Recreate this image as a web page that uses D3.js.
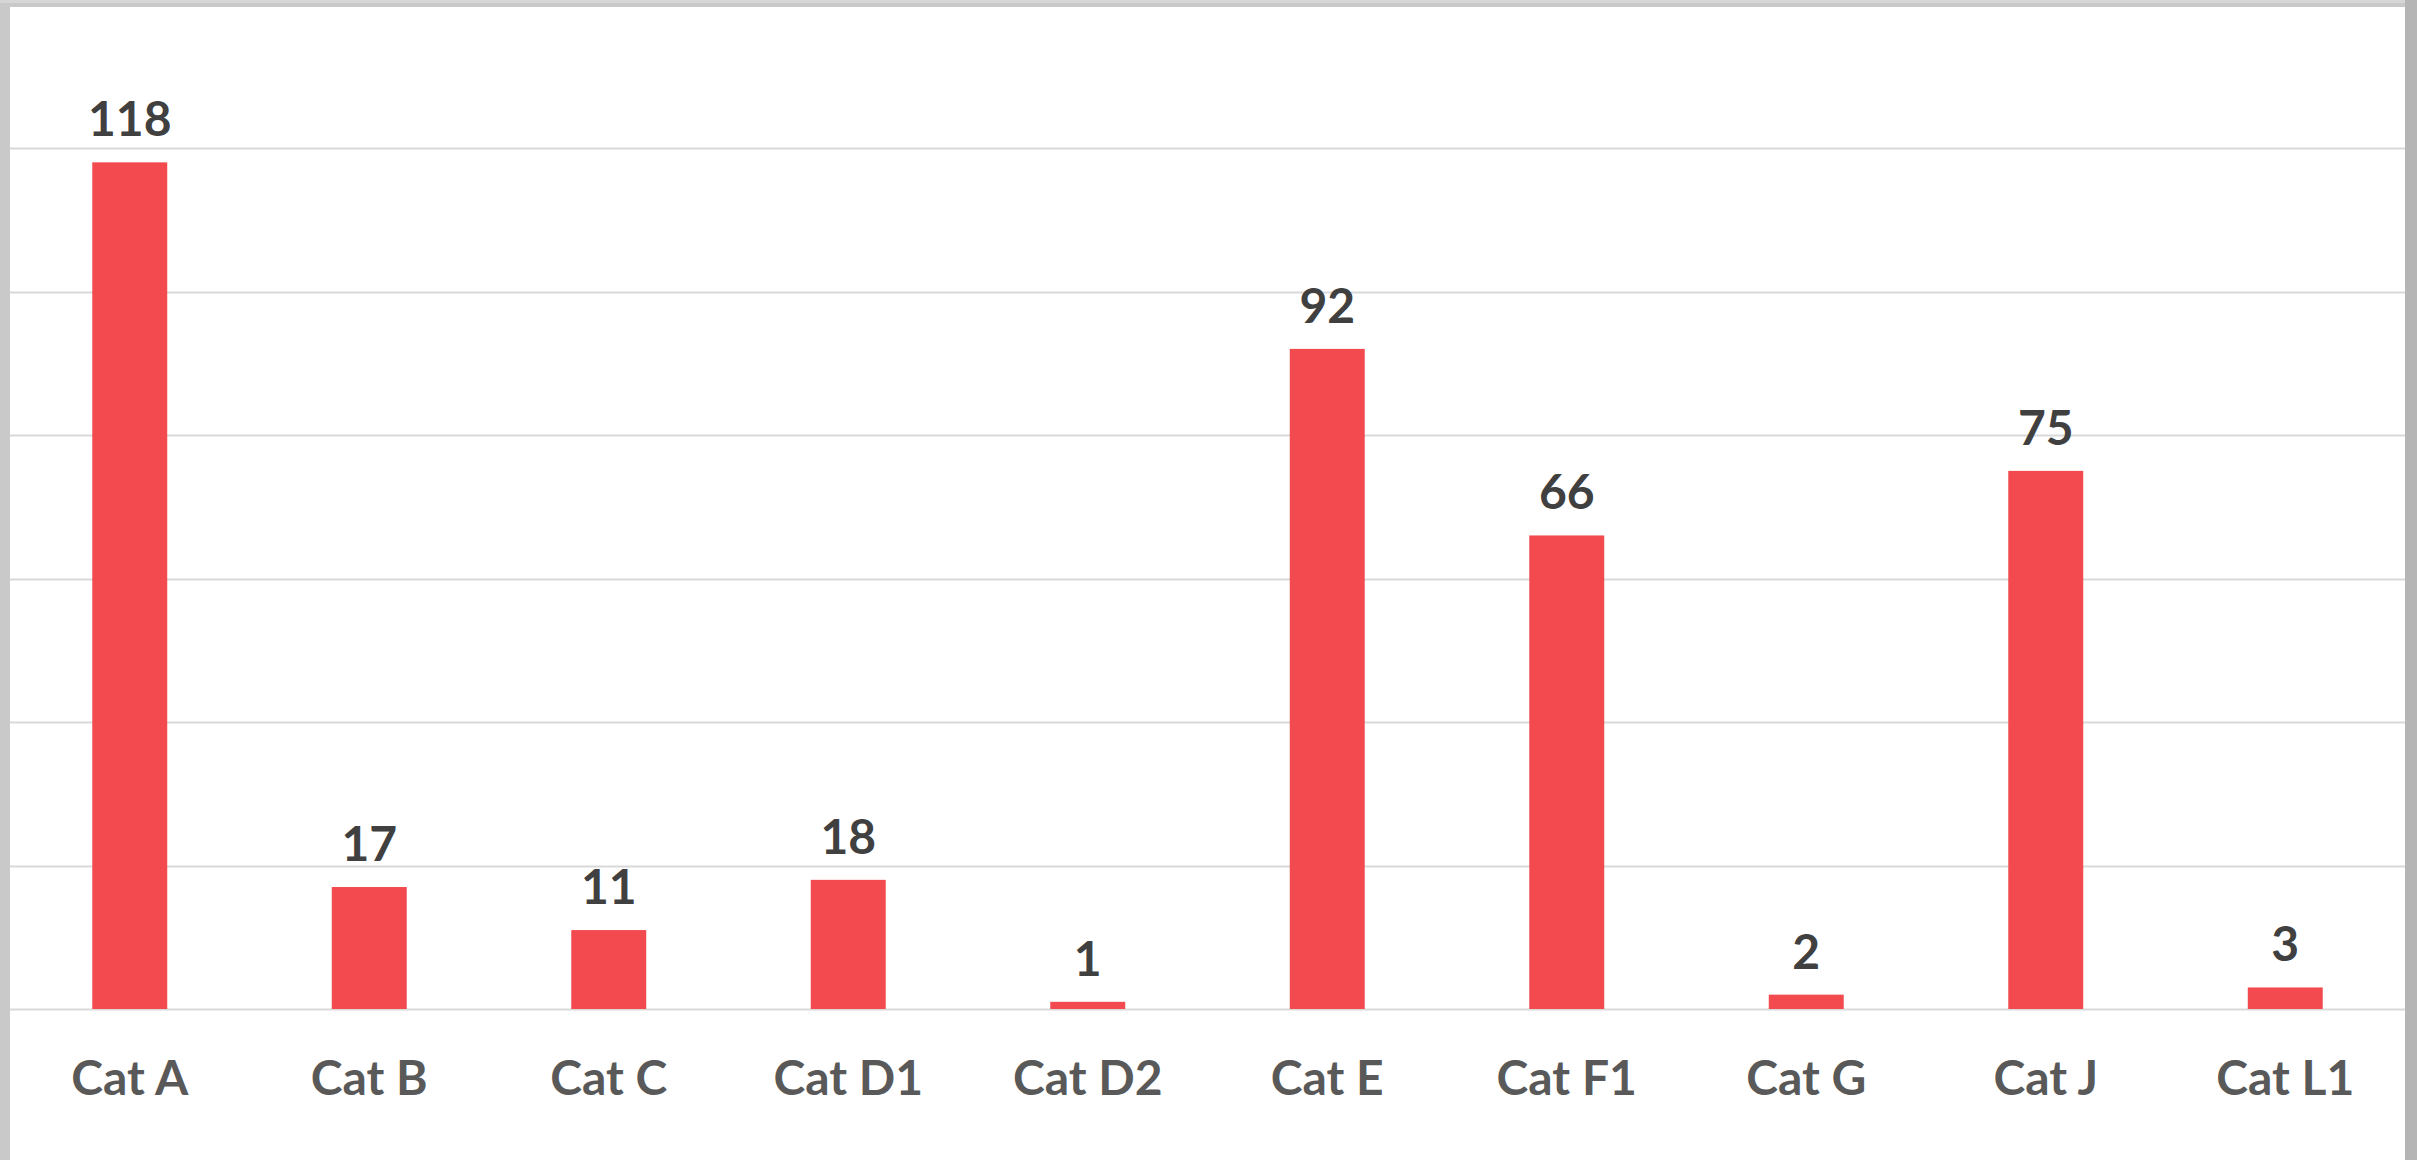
<!DOCTYPE html>
<html>
<head>
<meta charset="utf-8">
<script src="https://cdn.jsdelivr.net/npm/d3@7"></script>
<style>
  body { margin: 0; background: #c8c8c8; overflow: hidden; }
</style>
</head>
<body>
<div id="chart"></div>
<script>
  var categories = ["Cat A", "Cat B", "Cat C", "Cat D1", "Cat D2", "Cat E", "Cat F1", "Cat G", "Cat J", "Cat L1"];
  var counts = [118, 17, 11, 18, 1, 92, 66, 2, 75, 3];
  var gridTicks = [0, 20, 40, 60, 80, 100, 120];

  var width = 2417, height = 1160;
  var plotLeft = 10, plotRight = 2405, plotTop = 148, plotBottom = 1009;

  var data = [];
  for (let i = 0; i < categories.length; i++) {
    data[i] = { 'cat': categories[i], 'count': counts[i] };
  }

  drawBarChart(data);

  function drawBarChart(data) {
    var xScale = d3.scaleBand()
      .domain(data.map(d => d.cat))
      .range([plotLeft, plotRight])
      .paddingInner(0.687)
      .paddingOuter(0.3435);
    var yScale = d3.scaleLinear()
      .domain([0, 120])
      .range([plotBottom, plotTop]);

    var svg = d3.select("#chart")
      .append("svg")
      .attr("width", width)
      .attr("height", height);

    // grey frame around the white chart area
    svg.append("rect")
      .attr("x", 0).attr("y", 0)
      .attr("width", width).attr("height", height)
      .style("fill", "#c9c9c9");
    svg.append("rect")
      .attr("x", 0).attr("y", 0)
      .attr("width", width).attr("height", 3)
      .style("fill", "#d6d6d6");
    svg.append("rect")
      .attr("x", 2405).attr("y", 0)
      .attr("width", 12).attr("height", height)
      .style("fill", "#b5b5b5");
    svg.append("rect")
      .attr("x", plotLeft).attr("y", 7)
      .attr("width", plotRight - plotLeft).attr("height", height - 7)
      .style("fill", "#ffffff");

    // gridlines
    svg.append("g")
      .selectAll("line")
      .data(gridTicks)
      .enter()
      .append("line")
      .attr("x1", plotLeft)
      .attr("x2", plotRight)
      .attr("y1", d => Math.round(yScale(d)) + 0.5)
      .attr("y2", d => Math.round(yScale(d)) + 0.5)
      .style("stroke", "#d9d9d9")
      .style("stroke-width", 2);

    // bars
    svg.append("g")
      .selectAll("rect")
      .data(data)
      .enter()
      .append("rect")
      .attr("x", d => xScale(d.cat))
      .attr("y", d => yScale(d.count))
      .attr("width", xScale.bandwidth())
      .attr("height", d => plotBottom - yScale(d.count))
      .style("fill", "#f24a4e");

    // value labels
    svg.append("g")
      .selectAll("text")
      .data(data)
      .enter()
      .append("text")
      .attr("x", d => xScale(d.cat) + xScale.bandwidth() / 2)
      .attr("y", d => yScale(d.count) - 26)
      .attr("text-anchor", "middle")
      .style("font-family", "Lato, 'Open Sans', sans-serif")
      .style("font-weight", "bold")
      .style("font-size", "48px")
      .style("fill", "#404040")
      .text(d => d.count);

    // category axis labels
    svg.append("g")
      .selectAll("text")
      .data(data)
      .enter()
      .append("text")
      .attr("x", d => xScale(d.cat) + xScale.bandwidth() / 2)
      .attr("y", plotBottom + 86)
      .attr("text-anchor", "middle")
      .style("font-family", "Lato, 'Open Sans', sans-serif")
      .style("font-weight", "bold")
      .style("font-size", "48px")
      .style("fill", "#595959")
      .text(d => d.cat);
  }
</script>
</body>
</html>
